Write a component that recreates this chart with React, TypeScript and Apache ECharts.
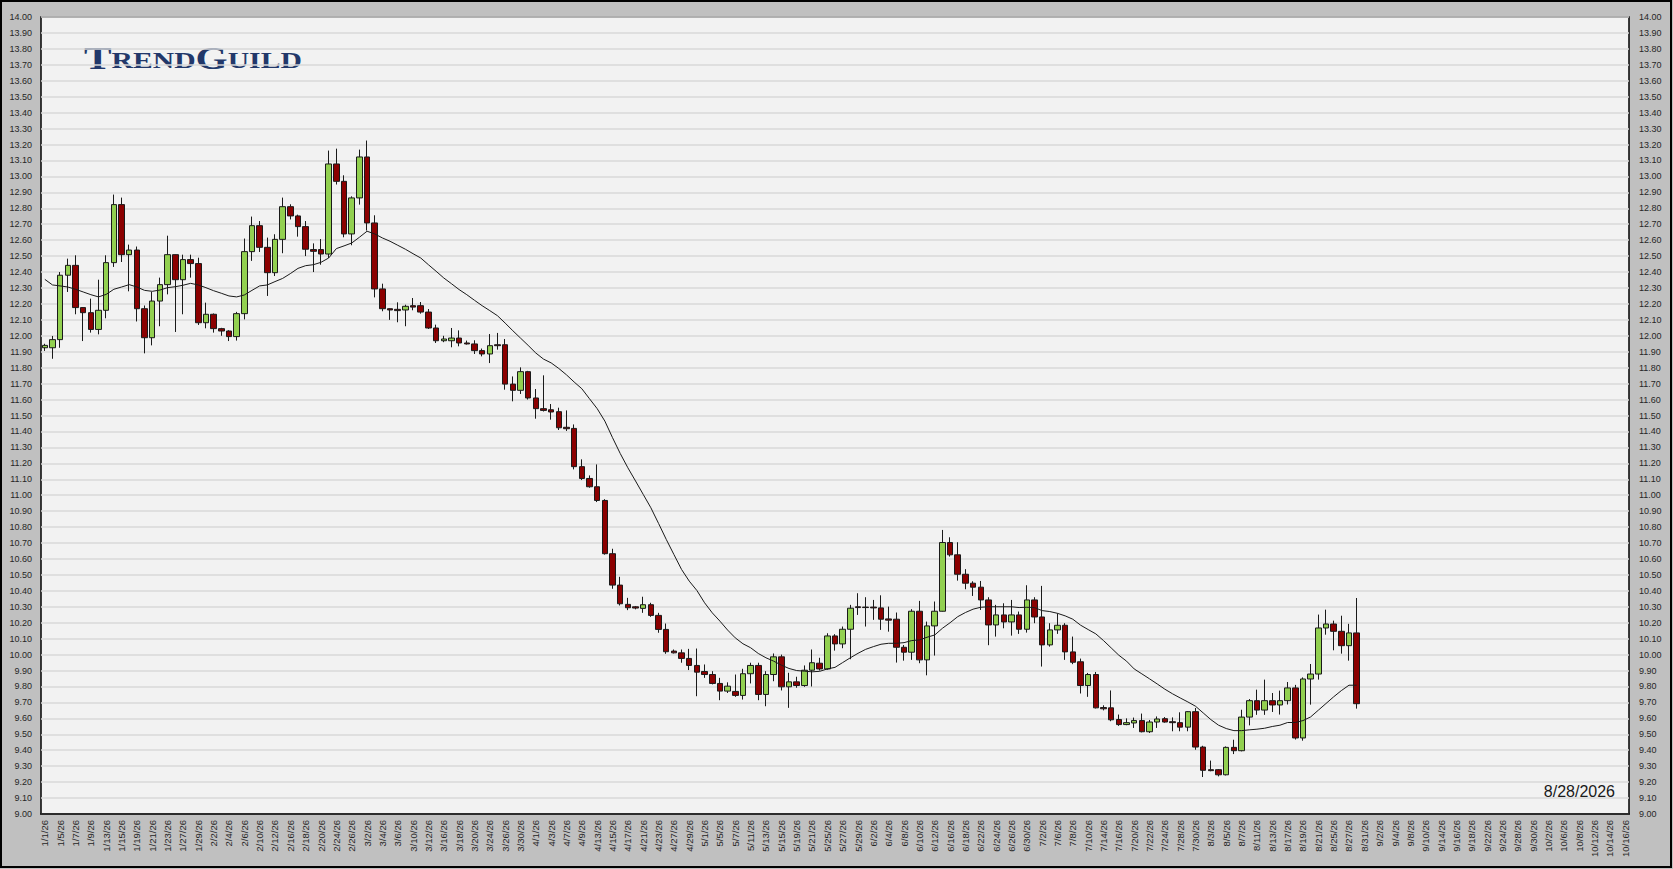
import React, { useEffect, useRef } from "react";
import * as echarts from "echarts";

// ---- data ----
const opens = [
  11.925, 11.925, 11.976, 12.38, 12.442, 12.177, 12.145, 12.04, 12.16, 12.459,
  12.823, 12.509, 12.538, 12.17, 11.988, 12.218, 12.321, 12.509, 12.352, 12.478,
  12.453, 12.082, 12.135, 12.045, 12.03, 11.995, 12.139, 12.528, 12.691, 12.555,
  12.396, 12.605, 12.81, 12.752, 12.685, 12.541, 12.541, 12.513, 13.078, 12.969,
  12.639, 12.865, 13.122, 12.708, 12.294, 12.17, 12.166, 12.162, 12.189, 12.189,
  12.149, 12.049, 11.969, 11.969, 11.986, 11.955, 11.949, 11.907, 11.886, 11.944,
  11.944, 11.697, 11.658, 11.775, 11.61, 11.543, 11.536, 11.524, 11.426, 11.419,
  11.179, 11.105, 11.053, 10.967, 10.633, 10.436, 10.315, 10.3, 10.29, 10.313,
  10.246, 10.158, 10.022, 10.011, 9.976, 9.932, 9.894, 9.875, 9.819, 9.771,
  9.769, 9.744, 9.88, 9.932, 9.75, 9.875, 9.986, 9.798, 9.829, 9.806,
  9.902, 9.946, 9.91, 10.117, 10.067, 10.159, 10.3, 10.298, 10.298, 10.293,
  10.224, 10.222, 10.046, 10.015, 10.272, 9.967, 10.18, 10.272, 10.703, 10.626,
  10.504, 10.448, 10.423, 10.343, 10.186, 10.249, 10.205, 10.249, 10.159, 10.343,
  10.236, 10.061, 10.155, 10.184, 10.017, 9.955, 9.806, 9.875, 9.668, 9.666,
  9.593, 9.561, 9.571, 9.586, 9.516, 9.577, 9.598, 9.579, 9.573, 9.545,
  9.642, 9.42, 9.278, 9.278, 9.246, 9.418, 9.397, 9.608, 9.711, 9.652,
  9.711, 9.684, 9.711, 9.791, 9.477, 9.847, 9.878, 10.167, 10.192, 10.146,
  10.056, 10.136,
];

const closes = [
  11.94, 11.976, 12.38, 12.442, 12.177, 12.145, 12.04, 12.16, 12.459, 12.823,
  12.509, 12.538, 12.17, 11.988, 12.218, 12.321, 12.509, 12.352, 12.478, 12.453,
  12.082, 12.135, 12.045, 12.03, 11.995, 12.139, 12.528, 12.691, 12.555, 12.396,
  12.605, 12.81, 12.752, 12.685, 12.543, 12.53, 12.513, 13.078, 12.969, 12.639,
  12.865, 13.122, 12.708, 12.294, 12.17, 12.162, 12.158, 12.185, 12.18, 12.149,
  12.049, 11.969, 11.98, 11.986, 11.955, 11.949, 11.907, 11.886, 11.938, 11.938,
  11.697, 11.658, 11.775, 11.61, 11.543, 11.532, 11.522, 11.423, 11.417, 11.179,
  11.105, 11.053, 10.967, 10.633, 10.436, 10.319, 10.294, 10.292, 10.313, 10.246,
  10.158, 10.018, 10.011, 9.976, 9.932, 9.89, 9.875, 9.819, 9.771, 9.802,
  9.744, 9.88, 9.932, 9.75, 9.875, 9.986, 9.798, 9.829, 9.806, 9.902,
  9.949, 9.91, 10.117, 10.067, 10.159, 10.291, 10.295, 10.295, 10.293, 10.222,
  10.216, 10.046, 10.015, 10.272, 9.967, 10.18, 10.272, 10.703, 10.626, 10.504,
  10.448, 10.423, 10.343, 10.186, 10.249, 10.205, 10.249, 10.159, 10.343, 10.236,
  10.061, 10.155, 10.184, 10.017, 9.952, 9.806, 9.875, 9.666, 9.66, 9.591,
  9.561, 9.573, 9.586, 9.516, 9.577, 9.596, 9.577, 9.573, 9.545, 9.642,
  9.42, 9.274, 9.272, 9.246, 9.418, 9.397, 9.608, 9.711, 9.652, 9.711,
  9.684, 9.711, 9.791, 9.477, 9.847, 9.878, 10.167, 10.192, 10.146, 10.056,
  10.136, 9.692,
];

const lows = [
  11.905, 11.856, 11.925, 12.275, 12.135, 11.967, 12.02, 12.009, 12.11, 12.432,
  12.463, 12.279, 12.09, 11.89, 11.94, 12.06, 12.26, 12.024, 12.135, 12.365,
  12.068, 12.047, 12.02, 12.0, 11.967, 11.97, 12.103, 12.47, 12.526, 12.25,
  12.375, 12.518, 12.73, 12.622, 12.5, 12.4, 12.446, 12.488, 12.949, 12.618,
  12.568, 12.823, 12.66, 12.241, 12.154, 12.1, 12.085, 12.06, 12.16, 12.139,
  12.043, 11.955, 11.96, 11.928, 11.934, 11.945, 11.886, 11.871, 11.829, 11.913,
  11.662, 11.589, 11.635, 11.6, 11.48, 11.525, 11.474, 11.409, 11.403, 11.162,
  11.095, 11.047, 10.957, 10.627, 10.413, 10.308, 10.279, 10.284, 10.262, 10.237,
  10.137, 10.005, 10.007, 9.949, 9.903, 9.739, 9.854, 9.813, 9.714, 9.759,
  9.735, 9.718, 9.819, 9.714, 9.676, 9.833, 9.775, 9.666, 9.792, 9.798,
  9.8, 9.9, 9.905, 10.025, 10.04, 9.971, 10.249, 10.176, 10.218, 10.155,
  10.144, 9.95, 9.962, 9.967, 9.946, 9.87, 9.994, 10.27, 10.615, 10.464,
  10.41, 10.368, 10.28, 10.059, 10.113, 10.165, 10.119, 10.13, 10.138, 10.197,
  9.925, 10.05, 10.13, 9.967, 9.94, 9.756, 9.735, 9.662, 9.65, 9.582,
  9.553, 9.557, 9.54, 9.512, 9.508, 9.54, 9.573, 9.519, 9.519, 9.519,
  9.403, 9.232, 9.268, 9.236, 9.242, 9.376, 9.393, 9.556, 9.622, 9.622,
  9.64, 9.624, 9.687, 9.467, 9.46, 9.686, 9.843, 10.125, 10.027, 10.006,
  9.962, 9.661,
];

const highs = [
  11.95, 11.999, 12.4, 12.484, 12.505, 12.18, 12.233, 12.352, 12.505, 12.886,
  12.867, 12.572, 12.56, 12.19, 12.275, 12.365, 12.628, 12.51, 12.509, 12.509,
  12.49, 12.208, 12.14, 12.05, 12.035, 12.15, 12.61, 12.748, 12.72, 12.616,
  12.637, 12.867, 12.825, 12.76, 12.72, 12.58, 12.607, 13.162, 13.174, 13.007,
  12.875, 13.168, 13.225, 12.756, 12.327, 12.172, 12.21, 12.195, 12.237, 12.212,
  12.168, 12.07, 12.0, 12.049, 12.034, 11.97, 11.972, 11.92, 12.011, 12.018,
  11.98, 11.745, 11.802, 11.78, 11.666, 11.752, 11.572, 11.549, 11.532, 11.444,
  11.225, 11.124, 11.193, 10.975, 10.664, 10.488, 10.356, 10.305, 10.363, 10.325,
  10.262, 10.195, 10.032, 10.032, 10.036, 10.038, 9.938, 9.896, 9.854, 9.826,
  9.875, 9.911, 9.949, 9.949, 9.896, 10.007, 10.0, 9.886, 9.861, 9.932,
  10.032, 9.98, 10.134, 10.128, 10.176, 10.312, 10.385, 10.36, 10.343, 10.372,
  10.301, 10.264, 10.06, 10.285, 10.337, 10.207, 10.333, 10.782, 10.736, 10.705,
  10.536, 10.46, 10.462, 10.36, 10.312, 10.322, 10.343, 10.27, 10.435, 10.36,
  10.431, 10.197, 10.259, 10.197, 10.113, 9.975, 9.885, 9.891, 9.682, 9.775,
  9.624, 9.6, 9.605, 9.63, 9.59, 9.612, 9.608, 9.606, 9.638, 9.645,
  9.665, 9.428, 9.335, 9.282, 9.424, 9.466, 9.654, 9.721, 9.78, 9.843,
  9.759, 9.774, 9.828, 9.81, 9.857, 9.941, 10.251, 10.282, 10.213, 10.244,
  10.193, 10.355,
];

const movingAverage = [
  12.354, 12.319, 12.313, 12.306, 12.292, 12.275, 12.258, 12.244, 12.26, 12.292,
  12.306, 12.321, 12.306, 12.285, 12.279, 12.287, 12.302, 12.308, 12.317, 12.329,
  12.319, 12.302, 12.283, 12.267, 12.25, 12.244, 12.256, 12.285, 12.313, 12.319,
  12.34, 12.36, 12.39, 12.423, 12.44, 12.446, 12.461, 12.488, 12.547, 12.564,
  12.582, 12.618, 12.656, 12.639, 12.614, 12.593, 12.568, 12.543, 12.515, 12.488,
  12.446, 12.405, 12.363, 12.327, 12.29, 12.258, 12.223, 12.189, 12.158, 12.126,
  12.08, 12.032, 11.986, 11.94, 11.892, 11.854, 11.83, 11.795, 11.755, 11.71,
  11.668, 11.605, 11.543, 11.465, 11.361, 11.262, 11.172, 11.089, 11.005, 10.921,
  10.823, 10.723, 10.628, 10.534, 10.461, 10.402, 10.325, 10.262, 10.21, 10.154,
  10.105, 10.068, 10.043, 10.007, 9.98, 9.959, 9.934, 9.913, 9.9, 9.896,
  9.892, 9.895, 9.91, 9.92, 9.95, 9.98, 10.008, 10.033, 10.05, 10.065,
  10.071, 10.071, 10.075, 10.088, 10.092, 10.109, 10.123, 10.165, 10.2, 10.238,
  10.264, 10.285, 10.297, 10.3, 10.3, 10.3, 10.3, 10.295, 10.297, 10.295,
  10.276, 10.27, 10.259, 10.243, 10.222, 10.185, 10.157, 10.13, 10.088, 10.042,
  9.996, 9.959, 9.91, 9.879, 9.848, 9.816, 9.783, 9.754, 9.728, 9.703,
  9.676, 9.634, 9.592, 9.557, 9.536, 9.523, 9.523, 9.528, 9.532, 9.538,
  9.549, 9.557, 9.574, 9.574, 9.586, 9.609, 9.651, 9.693, 9.735, 9.774,
  9.808, 9.808,
];

// weekday category labels, 1/1/26 through 10/16/26
const firstDay = Date.UTC(2026, 0, 1);
const lastDay = Date.UTC(2026, 9, 16);
const dates: string[] = [];
for (let t = firstDay; t <= lastDay; t += 86400000) {
  const d = new Date(t);
  const wd = d.getUTCDay();
  if (wd === 0 || wd === 6) continue;
  dates.push(`${d.getUTCMonth() + 1}/${d.getUTCDate()}/26`);
}

const yMin = 9;
const yMax = 14;
const yStep = 0.1;
const dateStamp = "8/28/2026";

export default function App() {
  const ref = useRef<HTMLDivElement>(null);

  useEffect(() => {
    document.body.style.margin = "0";
    if (!ref.current) return;
    const chart = echarts.init(ref.current, null, { renderer: "svg" });

    const candles = opens.map((o, i) => [o, closes[i], lows[i], highs[i]]);
    const labelFont = "Liberation Sans, Arial, sans-serif";
    const labelColor = "#262626";

    chart.setOption({
      animation: false,
      backgroundColor: "#c0c0c0",
      grid: {
        left: 41,
        right: 44,
        top: 17,
        bottom: 55,
        show: true,
        backgroundColor: "#f2f2f2",
        borderColor: "#000",
        borderWidth: 1.5,
      },
      xAxis: {
        type: "category",
        data: dates,
        boundaryGap: true,
        axisLine: { show: true, lineStyle: { color: "#000", width: 1.5 } },
        axisTick: { show: false },
        axisLabel: {
          interval: 1,
          rotate: 90,
          fontSize: 9.5,
          fontFamily: labelFont,
          color: labelColor,
          margin: 6,
        },
        splitLine: { show: false },
      },
      yAxis: [
        {
          type: "value",
          min: yMin,
          max: yMax,
          interval: yStep,
          position: "left",
          axisLine: { show: false },
          axisTick: { show: false },
          axisLabel: {
            formatter: (v: number) => v.toFixed(2),
            fontSize: 9,
            fontFamily: labelFont,
            color: labelColor,
            margin: 9,
          },
          splitLine: { show: true, lineStyle: { color: "#d9d9d9", width: 1.5 } },
        },
        {
          type: "value",
          min: yMin,
          max: yMax,
          interval: yStep,
          position: "right",
          axisLine: { show: false },
          axisTick: { show: false },
          axisLabel: {
            formatter: (v: number) => v.toFixed(2),
            fontSize: 9,
            fontFamily: labelFont,
            color: labelColor,
            margin: 10,
          },
          splitLine: { show: false },
        },
      ],
      series: [
        {
          type: "candlestick",
          data: candles,
          barWidth: 6,
          itemStyle: {
            color: "#92d050",
            color0: "#8b0000",
            borderColor: "#1a1a1a",
            borderColor0: "#1a1a1a",
            borderWidth: 1,
          },
          silent: true,
        },
        {
          type: "line",
          data: movingAverage,
          symbol: "none",
          smooth: false,
          lineStyle: { color: "#1a1a1a", width: 1 },
          silent: true,
        },
      ],
      graphic: [
        {
          type: "rect",
          shape: { x: 1, y: 1, width: 1670, height: 866 },
          style: { fill: "none", stroke: "#000", lineWidth: 2 },
          silent: true,
        },
        {
          type: "text",
          x: 84,
          y: 42,
          scaleX: 1.29,
          style: {
            text: "{b|T}{s|REND}{b|G}{s|UILD}",
            verticalAlign: "top",
            rich: {
              b: {
                fontSize: 32,
                fontFamily: "Liberation Serif, serif",
                fontWeight: "bold",
                fill: "#22386a",
                verticalAlign: "bottom",
              },
              s: {
                fontSize: 23,
                fontFamily: "Liberation Serif, serif",
                fontWeight: "bold",
                fill: "#22386a",
                verticalAlign: "bottom",
                padding: [0, 0, 2, 0],
              },
            },
          },
          silent: true,
        },
        {
          type: "text",
          x: 1615,
          y: 791,
          style: {
            text: dateStamp,
            fontSize: 16,
            fontFamily: labelFont,
            fill: "#1a1a1a",
            align: "right",
            verticalAlign: "middle",
          },
          silent: true,
        },
      ],
    });

    return () => chart.dispose();
  }, []);

  return <div ref={ref} style={{ width: 1673, height: 869 }} />;
}
